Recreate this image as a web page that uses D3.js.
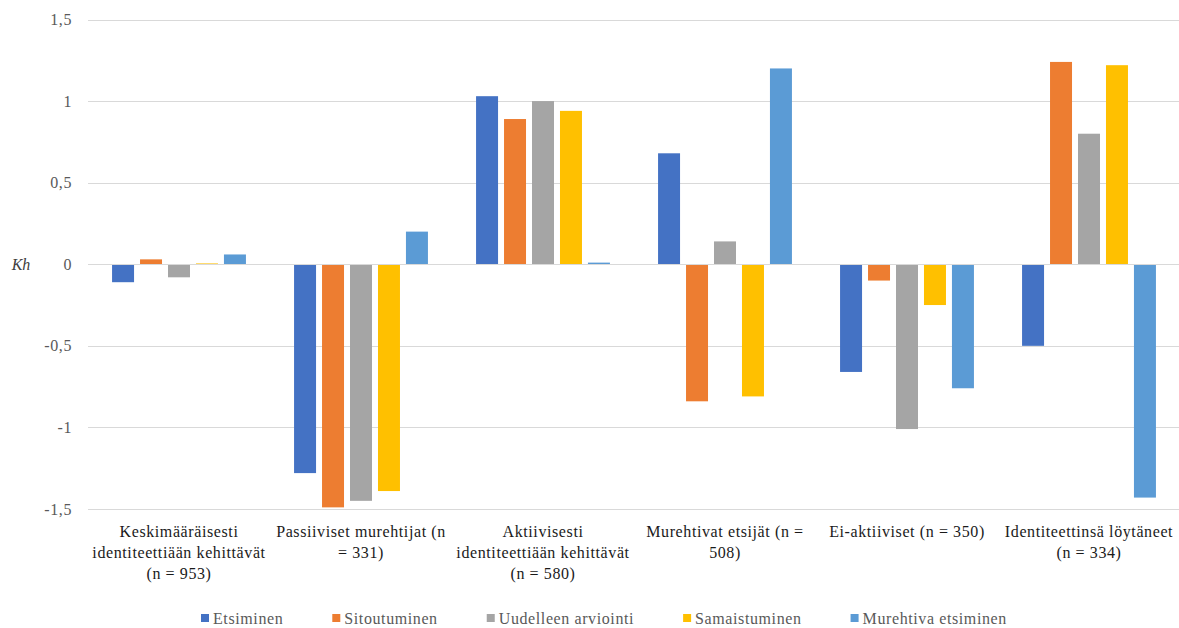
<!DOCTYPE html>
<html>
<head>
<meta charset="utf-8">
<script src="https://cdn.jsdelivr.net/npm/d3@7"></script>
<style>
  html, body { margin: 0; padding: 0; background: #fff; }
  svg { display: block; }
  svg text { font-family: "Liberation Serif", "DejaVu Serif", serif; }
</style>
</head>
<body>
<svg id="chart" width="1179" height="628"></svg>
<script>
const categories = [
  "Keskimääräisesti identiteettiään kehittävät (n = 953)",
  "Passiiviset murehtijat (n = 331)",
  "Aktiivisesti identiteettiään kehittävät (n = 580)",
  "Murehtivat etsijät (n = 508)",
  "Ei-aktiiviset (n = 350)",
  "Identiteettinsä löytäneet (n = 334)"
];
const categoryLines = [
  ["Keskimääräisesti", "identiteettiään kehittävät", "(n = 953)"],
  ["Passiiviset murehtijat (n", "= 331)"],
  ["Aktiivisesti", "identiteettiään kehittävät", "(n = 580)"],
  ["Murehtivat etsijät (n =", "508)"],
  ["Ei-aktiiviset (n = 350)"],
  ["Identiteettinsä löytäneet", "(n = 334)"]
];
const seriesNames = ["Etsiminen", "Sitoutuminen", "Uudelleen arviointi", "Samaistuminen", "Murehtiva etsiminen"];
const seriesColors = ["#4472C4", "#ED7D31", "#A5A5A5", "#FFC000", "#5B9BD5"];

const etsiminen         = [-0.11, -1.28, 1.03,  0.68, -0.66, -0.50];
const sitoutuminen      = [ 0.03, -1.49, 0.89, -0.84, -0.10,  1.24];
const uudelleenArviointi= [-0.08, -1.45, 1.00,  0.14, -1.01,  0.80];
const samaistuminen     = [ 0.005,-1.39, 0.94, -0.81, -0.25,  1.22];
const murehtivaEtsiminen= [ 0.06,  0.20, 0.01,  1.20, -0.76, -1.43];
const seriesValues = [etsiminen, sitoutuminen, uudelleenArviointi, samaistuminen, murehtivaEtsiminen];

const yTicks = [-1.5, -1, -0.5, 0, 0.5, 1, 1.5];
const yTickLabels = ["-1,5", "-1", "-0,5", "0", "0,5", "1", "1,5"];
const yAxisTitle = "Kh";

const FONT = "'Liberation Serif', 'DejaVu Serif', serif";
const svg = d3.select("#chart");
const plot = { left: 88, right: 1180, top: 19.5, bottom: 509 };

const x0 = d3.scaleBand().domain(categories).range([plot.left, plot.right]).paddingInner(0).paddingOuter(0);
const x1 = d3.scaleBand().domain(seriesNames).range([0, x0.bandwidth()]).paddingInner(0.214).paddingOuter(0.86);
const y = d3.scaleLinear().domain([-1.5, 1.5]).range([plot.bottom, plot.top]);

// gridlines
svg.append("g").selectAll("line").data(yTicks).join("line")
  .attr("x1", plot.left).attr("x2", plot.right)
  .attr("y1", d => Math.round(y(d)) + 0.5).attr("y2", d => Math.round(y(d)) + 0.5)
  .attr("stroke", "#d9d9d9").attr("stroke-width", 1);

// y tick labels
svg.append("g").selectAll("text").data(yTicks).join("text")
  .attr("x", 72).attr("y", d => y(d))
  .attr("dy", "0.35em")
  .attr("text-anchor", "end")
  .attr("font-family", FONT)
  .attr("font-size", 16).attr("letter-spacing", "0.6px")
  .attr("fill", "#595959")
  .text((d, i) => yTickLabels[i]);

// y axis title
svg.append("text")
  .attr("x", 21).attr("y", y(0)).attr("dy", "0.35em")
  .attr("text-anchor", "middle")
  .attr("font-family", FONT)
  .attr("font-size", 16).attr("font-style", "italic")
  .attr("fill", "#404040")
  .text(yAxisTitle);

// bars
const groups = svg.append("g").selectAll("g").data(seriesNames).join("g")
  .attr("fill", (d, i) => seriesColors[i]);
groups.selectAll("rect")
  .data((s, si) => categories.map((c, ci) => ({ c, s, v: seriesValues[si][ci] })))
  .join("rect")
  .attr("x", d => x0(d.c) + x1(d.s))
  .attr("width", x1.bandwidth())
  .attr("y", d => Math.min(y(d.v), y(0)))
  .attr("height", d => Math.max(Math.abs(y(d.v) - y(0)), 1));

// zero line on top
svg.append("line")
  .attr("x1", plot.left).attr("x2", plot.right)
  .attr("y1", Math.round(y(0)) + 0.5).attr("y2", Math.round(y(0)) + 0.5)
  .attr("stroke", "#d9d9d9").attr("stroke-width", 1);

// category labels
const cl = svg.append("g").selectAll("text").data(categories).join("text")
  .attr("text-anchor", "middle")
  .attr("font-family", FONT)
  .attr("font-size", 16).attr("letter-spacing", "0.6px")
  .attr("fill", "#1a1a1a");
cl.each(function(c, i) {
  d3.select(this).selectAll("tspan").data(categoryLines[i]).join("tspan")
    .attr("x", x0(c) + x0.bandwidth() / 2)
    .attr("y", (d, j) => 537 + j * 21)
    .text(d => d);
});

// legend
const legend = svg.append("g");
let lx = 201;
seriesNames.forEach((name, i) => {
  legend.append("rect").attr("x", lx).attr("y", 614).attr("width", 8).attr("height", 8).attr("fill", seriesColors[i]);
  const t = legend.append("text").attr("x", lx + 12).attr("y", 624)
    .attr("font-family", FONT)
    .attr("font-size", 16).attr("letter-spacing", "0.6px").attr("fill", "#595959").text(name);
  lx += 12 + t.node().getComputedTextLength() + 49;
});
</script>
</body>
</html>
